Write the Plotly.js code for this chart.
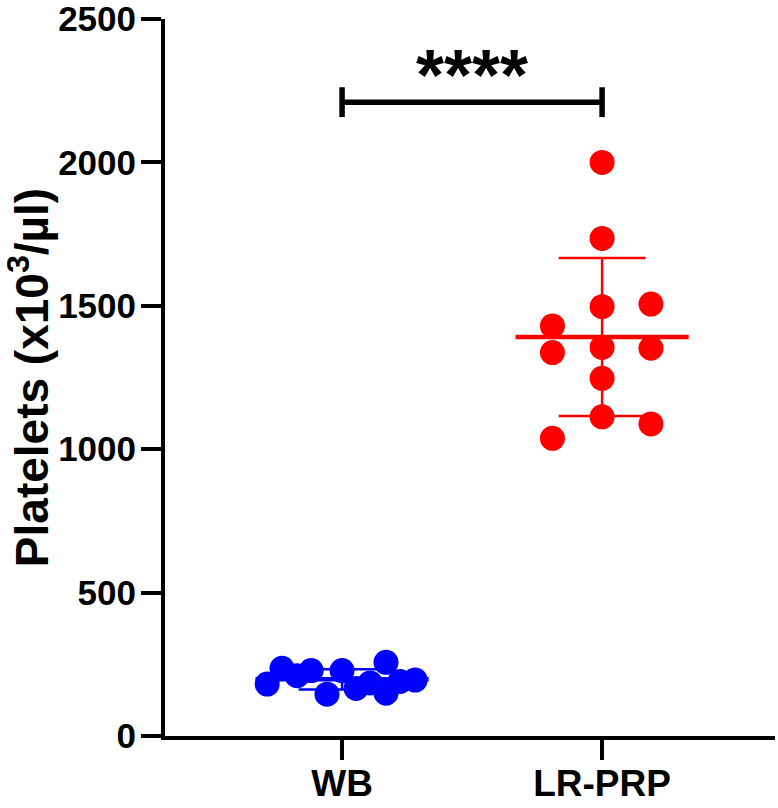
<!DOCTYPE html>
<html>
<head>
<meta charset="utf-8">
<script src="https://cdn.plot.ly/plotly-3.0.1.min.js"></script>
<style>
  html, body { margin: 0; padding: 0; background: #fff; }
  #plot { width: 778px; height: 808px; }
</style>
</head>
<body>
<div id="plot"></div>
<script>
// group labels and positions
var groups = ["WB", "LR-PRP"];
var groupPos = [1, 2];

// WB values (x10^3/ul) and their scatter positions
var wbX = [0.712, 0.769, 0.827, 0.881, 0.942, 1.0, 1.054, 1.108, 1.169, 1.169, 1.223, 1.281];
var wbY = [181, 236, 210, 228, 146, 228, 166, 185, 257, 149, 190, 195];

// LR-PRP values
var prpX = [2, 2, 2, 2.188, 1.809, 1.809, 2, 2.188, 2, 2, 2.188, 1.809];
var prpY = [2000, 1735, 1497, 1506, 1430, 1337, 1355, 1352, 1247, 1113, 1088, 1038];

// significance bracket
var sigY = 2210;
var sigCap = 52;
var sigText = "****";

var font = "Liberation Sans, Arial, sans-serif";

function mean(a) {
    var s = 0;
    for (var i = 0; i < a.length; i++) s += a[i];
    return s / a.length;
}
function sd(a) {
    var m = mean(a), s = 0;
    for (var i = 0; i < a.length; i++) s += (a[i] - m) * (a[i] - m);
    return Math.sqrt(s / (a.length - 1));
}

// error bar (mean +/- SD) with caps, drawn as a line trace
function errTrace(c, vals, color) {
    var m = mean(vals), s = sd(vals);
    return {
        x: [c, c, null, c - 0.167, c + 0.167, null, c - 0.167, c + 0.167],
        y: [m - s, m + s, null, m + s, m + s, null, m - s, m - s],
        mode: "lines",
        type: "scatter",
        line: {color: color, width: 2.5},
        hoverinfo: "skip"
    };
}
function meanTrace(c, vals, color) {
    var m = mean(vals);
    return {
        x: [c - 0.333, c + 0.333],
        y: [m, m],
        mode: "lines",
        type: "scatter",
        line: {color: color, width: 4.5},
        hoverinfo: "skip"
    };
}

var wbPts = {
    x: wbX,
    y: wbY,
    mode: "markers",
    type: "scatter",
    marker: {color: "#0000ff", size: 25}
};
var prpPts = {
    x: prpX,
    y: prpY,
    mode: "markers",
    type: "scatter",
    marker: {color: "#ff0000", size: 25}
};

var data = [
    errTrace(groupPos[0], wbY, "#0000ff"),
    errTrace(groupPos[1], prpY, "#ff0000"),
    meanTrace(groupPos[0], wbY, "#0000ff"),
    wbPts,
    prpPts,
    meanTrace(groupPos[1], prpY, "#ff0000")
];

var layout = {
    width: 778,
    height: 808,
    margin: {l: 165, r: 3, t: 19, b: 72},
    showlegend: false,
    paper_bgcolor: "#fff",
    plot_bgcolor: "#fff",
    xaxis: {
        range: [0.319, 2.665],
        tickvals: groupPos,
        ticktext: groups,
        showgrid: false,
        zeroline: false,
        showline: true,
        linecolor: "#000",
        linewidth: 4,
        ticks: "outside",
        ticklen: 20,
        tickwidth: 4,
        tickcolor: "#000",
        ticklabelstandoff: -8,
        ticklabeloverflow: "allow",
        tickfont: {family: font, size: 37, weight: "bold", color: "#000"}
    },
    yaxis: {
        range: [0, 2500],
        tickvals: [0, 500, 1000, 1500, 2000, 2500],
        showgrid: false,
        zeroline: false,
        showline: true,
        linecolor: "#000",
        linewidth: 4,
        ticks: "outside",
        ticklen: 20,
        tickwidth: 4,
        tickcolor: "#000",
        ticklabelstandoff: -2,
        ticklabeloverflow: "allow",
        tickfont: {family: font, size: 35, weight: "bold", color: "#000"},
        title: {
            text: "Platelets (x10<sup>3</sup>/µl)",
            font: {family: font, size: 46, weight: "bold", color: "#000"},
            standoff: 4
        }
    },
    shapes: [
        {type: "line", xref: "x", yref: "y", x0: groupPos[0], x1: groupPos[1], y0: sigY, y1: sigY,
         line: {color: "#000", width: 5.5}},
        {type: "line", xref: "x", yref: "y", x0: groupPos[0], x1: groupPos[0], y0: sigY - sigCap, y1: sigY + sigCap,
         line: {color: "#000", width: 5.5}},
        {type: "line", xref: "x", yref: "y", x0: groupPos[1], x1: groupPos[1], y0: sigY - sigCap, y1: sigY + sigCap,
         line: {color: "#000", width: 5.5}}
    ],
    annotations: [
        {x: (groupPos[0] + groupPos[1]) / 2, y: sigY - 52, xref: "x", yref: "y",
         text: sigText, showarrow: false, yanchor: "bottom",
         font: {family: font, size: 72, weight: "bold", color: "#000"}}
    ]
};

Plotly.newPlot("plot", data, layout, {displayModeBar: false});
</script>
</body>
</html>
